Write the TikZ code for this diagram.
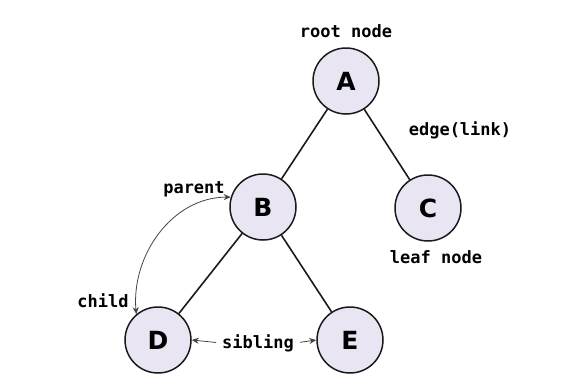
\documentclass[tikz,border=0pt]{standalone}
\usepackage{fontspec}
\setmainfont{DejaVu Sans}
\setmonofont{DejaVu Sans Mono}
\usepackage{xcolor}
\usepackage{tikz}
\usetikzlibrary{arrows.meta,positioning}
\definecolor{TREEfill}{HTML}{E9E5F3}
\definecolor{TREEline}{HTML}{1A1A1A}
\definecolor{TREEarrow}{HTML}{444444}

\tikzset{
  treenode/.style={circle, draw=TREEline, line width=1.5pt, fill=TREEfill,
    minimum size=66pt, inner sep=0pt, font=\fontsize{25}{27}\selectfont\bfseries},
  lbl/.style={font=\fontsize{17}{19}\selectfont\ttfamily\bfseries, inner sep=1pt},
  link/.style={line width=1.6pt, TREEline},
  rel/.style={line width=0.8pt, TREEarrow, -{Stealth[length=7pt,width=6pt]}}
}

\begin{document}
\begin{tikzpicture}[x=1pt,y=-1pt]
      \useasboundingbox (0,0) rectangle (566,389);
      % tree nodes
      \node[treenode] (A) at (346,81) {A};
      \node[treenode] (B) at (263,207) {B};
      \node[treenode] (C) at (428,208) {C};
      \node[treenode] (D) at (158,340) {D};
      \node[treenode] (E) at (350,340) {E};
      % edges
      \draw[link] (A) -- (B);
      \draw[link] (A) -- (C);
      \draw[link] (B) -- (D);
      \draw[link] (B) -- (E);
      % labels
      \node[lbl] (root) at (346,31) {root node};
      \node[lbl] (edge) at (460,130) {edge(link)};
      \node[lbl] (parent) at (194,189) {parent};
      \node[lbl] (leaf) at (436,257) {leaf node};
      \node[lbl] (child) at (103,301) {child};
      \node[lbl] (sib) at (258,343) {sibling};
      % relations
      \draw[rel, {Stealth[length=7pt,width=6pt]}-{Stealth[length=7pt,width=6pt]}]
        (D.130) to[out=95,in=180] (B.163);
      \draw[rel, shorten <=5pt] (sib.west) -- (D.east);
      \draw[rel, shorten <=5pt] (sib.east) -- (E.west);
    \end{tikzpicture}
\end{document}
